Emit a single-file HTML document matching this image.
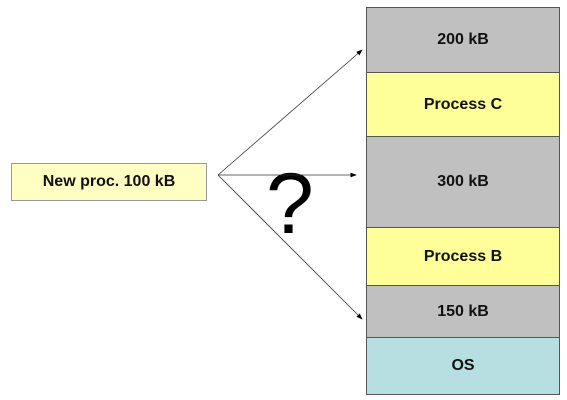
<!DOCTYPE html>
<html><head><style>
body{margin:0;width:567px;height:400px;background:#fff;position:relative;overflow:hidden;font-family:"Liberation Sans",sans-serif}
.b{position:absolute;box-sizing:border-box;border:1px solid #555;display:flex;align-items:center;justify-content:center;font-weight:bold;font-size:16px;color:#111}
.g{background:#c0c0c0}.y{background:#ffff99}.c{background:#b7dee1}
</style></head><body>
<div class="b y" style="left:11px;top:163px;width:196px;height:38px;background:#ffffc4;border-color:#999">New proc. 100 kB</div>
<div class="b g" style="left:366px;top:7px;width:194px;height:66px">200 kB</div>
<div class="b y" style="left:366px;top:72px;width:194px;height:65px">Process C</div>
<div class="b g" style="left:366px;top:136px;width:194px;height:92px">300 kB</div>
<div class="b y" style="left:366px;top:227px;width:194px;height:59px">Process B</div>
<div class="b g" style="left:366px;top:285px;width:194px;height:53px">150 kB</div>
<div class="b c" style="left:366px;top:337px;width:194px;height:58px">OS</div>
<div style="position:absolute;left:266px;top:161px;font-size:86px;line-height:86px;color:#000">?</div>
<svg width="567" height="400" style="position:absolute;left:0;top:0">
<defs><marker id="a" markerWidth="8" markerHeight="6" refX="7" refY="3" orient="auto"><path d="M0,0L8,3L0,6z" fill="#000"/></marker></defs>
<g stroke="#333" stroke-width="0.8" fill="none" marker-end="url(#a)">
<line x1="218" y1="175" x2="362" y2="50"/>
<line x1="218" y1="175" x2="356" y2="175"/>
<line x1="218" y1="175" x2="362" y2="319"/>
</g></svg>
</body></html>
